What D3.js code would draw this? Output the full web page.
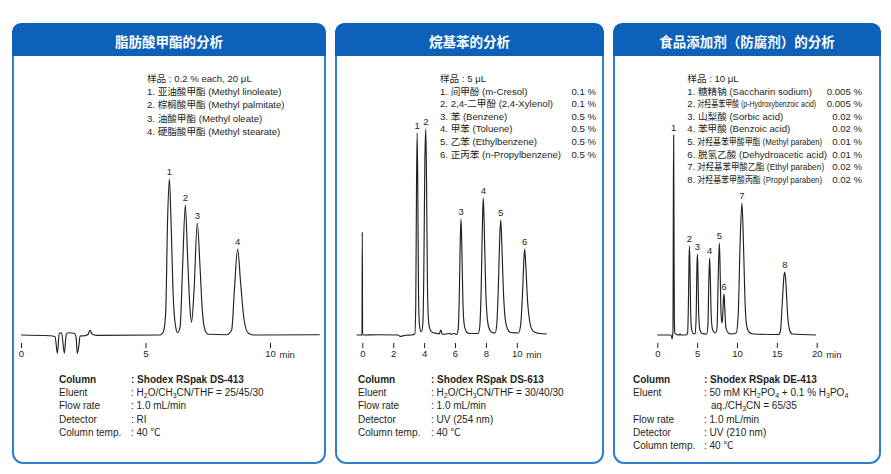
<!DOCTYPE html>
<html>
<head>
<meta charset="utf-8">
<script src="https://cdn.jsdelivr.net/npm/d3@7"></script>
<style>
  html, body { margin: 0; padding: 0; background: #fff; }
  svg text { font-family: "Liberation Sans", "Noto Sans CJK SC", sans-serif; fill: #231f20; }
</style>
</head>
<body>
<svg id="chart" width="891" height="474"></svg>
<script>
// ---- data ----
var titles = ['脂肪酸甲酯的分析', '烷基苯的分析', '食品添加剂（防腐剂）的分析']

// panel 1: fatty acid methyl esters (RI)
var fameTime = [0, 1.16, 1.37, 1.46, 1.54, 1.63, 1.74, 1.82, 1.90, 2.13, 2.21, 2.26, 2.32, 2.37, 2.57, 2.70, 2.77, 2.85, 3.04, 5.58,
  5.72, 5.81, 5.89, 5.96, 6.02, 6.12, 6.21, 6.29, 6.39, 6.49, 6.60, 6.69, 6.79, 6.85, 6.95, 7.08, 7.19, 7.28, 7.39, 7.52,
  8.26, 8.46, 8.57, 8.70, 8.82, 8.96, 9.13, 9.33, 12.0]
var fameSignal = [0, -0.7, -1.7, -18.3, 1.7, 2.3, -18.3, 1.0, 2.3, 1.7, -1.7, -18.3, -11.7, -1.0, -0.7, 0.7, 5.0, 1.0, -0.3, 0,
  3.3, 21.7, 118, 156, 118, 35, 8.3, 2.3, 8.3, 68, 130, 78, 25, 12.7, 45, 112, 68, 25, 5, 0.7,
  0.3, 5, 45, 86, 52, 15, 1.7, 0, 0.3]
var famePeaks = [5.96, 6.60, 7.08, 8.70]
var fameTicks = [0, 5, 10]
var fameSample = '样品 : 0.2 % each, 20 μL'
var fameCompounds = ['亚油酸甲酯 (Methyl linoleate)', '棕榈酸甲酯 (Methyl palmitate)', '油酸甲酯 (Methyl oleate)', '硬脂酸甲酯 (Methyl stearate)']
var fameConditions = ['Shodex RSpak DS-413', 'H{2}O/CH{3}CN/THF = 25/45/30', '1.0 mL/min', 'RI', '40 ℃']

// panel 2: alkylbenzenes (UV 254 nm)
var alkylTime = [-0.37, -0.02, 0, 0.02, 1.0, 2.3, 2.45, 2.6, 2.8, 3.2, 3.40, 3.46, 3.51, 3.55, 3.59, 3.64, 3.70, 3.78, 3.84, 3.92,
  3.98, 4.05, 4.11, 4.16, 4.22, 4.30, 4.40, 4.55, 4.70, 4.85, 4.98, 5.05, 5.09, 5.14, 5.22, 5.40, 5.60, 5.80, 5.95, 6.10,
  6.20, 6.28, 6.34, 6.39, 6.44, 6.51, 6.60, 6.75, 6.95, 7.50, 7.60, 7.70, 7.78, 7.83, 7.89, 7.98, 8.08, 8.20, 8.40, 8.60,
  8.70, 8.82, 8.90, 8.96, 9.03, 9.13, 9.25, 9.40, 9.60, 10.10, 10.25, 10.38, 10.46, 10.51, 10.58, 10.70, 10.85, 11.00, 11.20, 11.50,
  11.95]
var alkylSignal = [0, 0, 103, 0, 0.3, 0, -1.3, -1.0, -0.3, 0, 1, 30, 150, 202, 150, 40, 10, 4, 3.5, 12,
  60, 175, 206, 150, 45, 12, 5, 2.5, 2, 1.5, 1.2, 4, 5, 2, 0.8, 1, 1.5, 0.8, 1.5, 0.5,
  5, 40, 95, 116, 90, 35, 10, 3, 1.5, 1.5, 8, 50, 115, 137, 110, 50, 18, 7, 2.5, 2,
  10, 55, 100, 115, 92, 45, 16, 6, 2.5, 2, 10, 45, 76, 86, 70, 33, 12, 5, 2.5, 1.5,
  1]
var alkylPeaks = [3.55, 4.11, 6.39, 7.83, 8.96, 10.51]
var alkylTicks = [0, 2, 4, 6, 8, 10]
var alkylSample = '样品 : 5 μL'
var alkylCompounds = ['间甲酚 (m-Cresol)', '2,4-二甲酚 (2,4-Xylenol)', '苯 (Benzene)', '甲苯 (Toluene)', '乙苯 (Ethylbenzene)', '正丙苯 (n-Propylbenzene)']
var alkylConc = ['0.1 %', '0.1 %', '0.5 %', '0.5 %', '0.5 %', '0.5 %']
var alkylConditions = ['Shodex RSpak DS-613', 'H{2}O/CH{3}CN/THF = 30/40/30', '1.0 mL/min', 'UV (254 nm)', '40 ℃']

// panel 3: food preservatives (UV 210 nm)
var foodTime = [0, 1.60, 1.78, 1.85, 1.92, 1.97, 2.01, 2.05, 2.09, 2.14, 2.20, 2.40, 2.75, 2.85, 2.95, 3.60, 3.80, 3.90, 3.98, 4.04,
  4.10, 4.18, 4.30, 4.50, 4.75, 4.88, 4.97, 5.04, 5.10, 5.20, 5.35, 5.60, 6.20, 6.35, 6.47, 6.57, 6.65, 6.77, 6.95, 7.30,
  7.50, 7.65, 7.78, 7.86, 7.98, 8.10, 8.20, 8.30, 8.38, 8.46, 8.60, 8.80, 9.20, 9.90, 10.15, 10.40, 10.62, 10.80, 11.00, 11.20,
  11.50, 12.00, 15.20, 15.45, 15.70, 15.90, 16.00, 16.15, 16.35, 16.60, 16.90, 19.90]
var foodSignal = [0, 0, -1, -4, -1, 5, 120, 200, 120, 15, 2, 0.5, 0, 1.2, 0, 0, 2, 30, 75, 89,
  70, 25, 6, 1.5, 1.2, 20, 68, 81, 62, 20, 5, 1.5, 1, 10, 55, 77, 58, 18, 5, 2,
  8, 60, 92, 75, 25, 12, 18, 36, 41, 28, 8, 3, 1, 2, 20, 95, 132, 95, 35, 10,
  3, 1, 0.5, 4, 35, 60, 63, 50, 20, 5, 1, 0]
var foodPeaks = [2.05, 4.04, 5.04, 6.57, 7.78, 8.38, 10.62, 16.00]
var foodTicks = [0, 5, 10, 15, 20]
var foodSample = '样品 : 10 μL'
var foodCompounds = ['糖精钠 (Saccharin sodium)', '对羟基苯甲酸 (p-Hydroxybenzoic acid)', '山梨酸 (Sorbic acid)', '苯甲酸 (Benzoic acid)',
  '对羟基苯甲酸甲酯 (Methyl paraben)', '脱氢乙酸 (Dehydroacetic acid)', '对羟基苯甲酸乙酯 (Ethyl paraben)', '对羟基苯甲酸丙酯 (Propyl paraben)']
var foodConc = ['0.005 %', '0.005 %', '0.02 %', '0.02 %', '0.01 %', '0.01 %', '0.02 %', '0.02 %']
var foodConditions = ['Shodex RSpak DE-413', '50 mM KH{2}PO{4} + 0.1 % H{3}PO{4}', '1.0 mL/min', 'UV (210 nm)', '40 ℃']
var foodEluent2 = 'aq./CH{3}CN = 65/35'

var conditionLabels = ['Column', 'Eluent', 'Flow rate', 'Detector', 'Column temp.']

// ---- layout ----
var TOP = 24, BOTTOM = 463, HEADER_H = 32, RADIUS = 10
var BASE_Y = 335, AXIS_Y = 343
var HEADER_COLOR = '#0d61b9', BORDER_COLOR = '#2f7ed3', INK = '#231f20'
var LIST_SIZE = 9.6

var svg = d3.select('#chart')

var panels = [
  { x0: 13, x1: 325, title: titles[0], time: fameTime, signal: fameSignal, peaks: famePeaks, ticks: fameTicks,
    xRange: [21, 270], sample: fameSample, compounds: fameCompounds, conc: null, sampleX: 147, lineGap: 13.2,
    conditions: fameConditions, condX: 59, colonX: 131 },
  { x0: 336, x1: 603, title: titles[1], time: alkylTime, signal: alkylSignal, peaks: alkylPeaks, ticks: alkylTicks,
    xRange: [362.3, 516.8], sample: alkylSample, compounds: alkylCompounds, conc: alkylConc, sampleX: 440, concX: 596, lineGap: 12.6,
    conditions: alkylConditions, condX: 358, colonX: 431 },
  { x0: 614, x1: 880, title: titles[2], time: foodTime, signal: foodSignal, peaks: foodPeaks, ticks: foodTicks,
    xRange: [657.3, 816.7], sample: foodSample, compounds: foodCompounds, conc: foodConc, sampleX: 687.3, concX: 862, lineGap: 12.6,
    conditions: foodConditions, condX: 633, colonX: 704, extraEluent: foodEluent2 }
]

// squeezed compound names in the third list (index -> width in px)
var SQUEEZE = { 1: 119, 4: 125, 6: 127, 7: 125 }

// writes "H{2}O" style strings with subscripts into a text element
function richText(textSel, str, size) {
  var parts = str.split(/\{(\d)\}/)
  var lowered = false
  parts.forEach(function(part, i) {
    if (part === '') return
    var sub = i % 2 === 1
    var t = textSel.append('tspan').text(part)
    if (sub && !lowered) { t.attr('font-size', size * 0.7).attr('dy', 2); lowered = true }
    else if (!sub && lowered) { t.attr('dy', -2); lowered = false }
  })
}

panels.forEach(function(p) {
  var g = svg.append('g')

  // frame + header
  g.append('rect')
    .attr('x', p.x0).attr('y', TOP)
    .attr('width', p.x1 - p.x0).attr('height', BOTTOM - TOP)
    .attr('rx', RADIUS)
    .attr('fill', '#fff')
    .attr('stroke', BORDER_COLOR)
    .attr('stroke-width', 2)

  var hy = TOP + HEADER_H
  g.append('path')
    .attr('d', 'M' + (p.x0 - 1) + ',' + hy + ' V' + (TOP + RADIUS) +
      ' Q' + (p.x0 - 1) + ',' + (TOP - 1) + ' ' + (p.x0 + RADIUS) + ',' + (TOP - 1) +
      ' H' + (p.x1 - RADIUS) + ' Q' + (p.x1 + 1) + ',' + (TOP - 1) + ' ' + (p.x1 + 1) + ',' + (TOP + RADIUS) +
      ' V' + hy + ' Z')
    .attr('fill', HEADER_COLOR)

  g.append('text')
    .attr('x', (p.x0 + p.x1) / 2).attr('y', TOP + HEADER_H / 2 + 1)
    .attr('text-anchor', 'middle')
    .attr('dominant-baseline', 'central')
    .style('font-family', '"Noto Sans CJK SC", sans-serif')
    .style('font-weight', 700)
    .style('font-size', '13.5px')
    .style('fill', '#fff')
    .text(p.title)

  // scales
  var xScale = d3.scaleLinear()
    .domain([0, p.ticks[p.ticks.length - 1]])
    .range(p.xRange)
  var yScale = d3.scaleLinear()
    .domain([0, 100])
    .range([BASE_Y, BASE_Y - 100])

  var points = p.time.map(function(t, i) { return [t, p.signal[i]] })

  var lineGenerator = d3.line()
    .x(function(d) { return xScale(d[0]) })
    .y(function(d) { return yScale(d[1]) })
    .curve(d3.curveMonotoneX)

  g.append('path')
    .datum(points)
    .attr('d', lineGenerator)
    .attr('fill', 'none')
    .attr('stroke', INK)
    .attr('stroke-width', 1.15)
    .attr('stroke-linejoin', 'round')

  // peak numbers
  p.peaks.forEach(function(t, i) {
    var idx = p.time.indexOf(t)
    g.append('text')
      .attr('x', xScale(t))
      .attr('y', yScale(p.signal[idx]) - 4)
      .attr('text-anchor', 'middle')
      .style('font-size', '9.5px')
      .text(i + 1)
  })

  // time axis
  var axis = g.append('g')
    .attr('transform', 'translate(0,' + AXIS_Y + ')')
    .call(d3.axisBottom(xScale).tickValues(p.ticks).tickSize(5).tickPadding(2).tickFormat(d3.format('d')))
  axis.select('.domain').remove()
  axis.selectAll('line').attr('stroke', INK)
  axis.selectAll('text')
    .style('font-family', '"Liberation Sans", sans-serif')
    .style('font-size', '9.5px')
    .attr('fill', INK)
  g.append('text')
    .attr('x', xScale(p.ticks[p.ticks.length - 1]) + 9.5)
    .attr('y', AXIS_Y + 15)
    .style('font-size', '9.5px')
    .text('min')

  // sample list
  var sy = 82
  g.append('text').attr('x', p.sampleX).attr('y', sy).style('font-size', LIST_SIZE + 'px').text(p.sample)
  p.compounds.forEach(function(name, i) {
    var y = sy + p.lineGap * (i + 1)
    if (p.extraEluent && SQUEEZE[i]) {
      g.append('text').attr('x', p.sampleX).attr('y', y).style('font-size', LIST_SIZE + 'px').text((i + 1) + '.')
      var holder = g.append('g').attr('transform', 'translate(' + (p.sampleX + 10) + ',' + y + ')')
      var txt = holder.append('text').style('font-size', LIST_SIZE + 'px').text(name)
      var natural = txt.node().getComputedTextLength()
      holder.attr('transform', 'translate(' + (p.sampleX + 10) + ',' + y + ') scale(' + (SQUEEZE[i] / natural) + ',1)')
    } else {
      g.append('text').attr('x', p.sampleX).attr('y', y).style('font-size', LIST_SIZE + 'px').text((i + 1) + '. ' + name)
    }
    if (p.conc) {
      g.append('text').attr('x', p.concX).attr('y', y).attr('text-anchor', 'end')
        .style('font-size', LIST_SIZE + 'px').text(p.conc[i])
    }
  })

  // conditions
  var cy = 382.7, cGap = 13.3
  var rows = []
  conditionLabels.forEach(function(label, i) {
    rows.push({ label: label, value: ': ' + p.conditions[i], bold: i === 0 })
    if (i === 1 && p.extraEluent) rows.push({ label: '', value: p.extraEluent, indent: true })
  })
  rows.forEach(function(r, i) {
    var y = cy + cGap * i
    g.append('text').attr('x', p.condX).attr('y', y)
      .style('font-size', '10px').style('font-weight', r.bold ? 700 : 400)
      .text(r.label)
    var t = g.append('text').attr('x', r.indent ? p.colonX + 7 : p.colonX).attr('y', y)
      .style('font-size', '10px').style('font-weight', r.bold ? 700 : 400)
    richText(t, r.value, 10)
  })
})
</script>
</body>
</html>
